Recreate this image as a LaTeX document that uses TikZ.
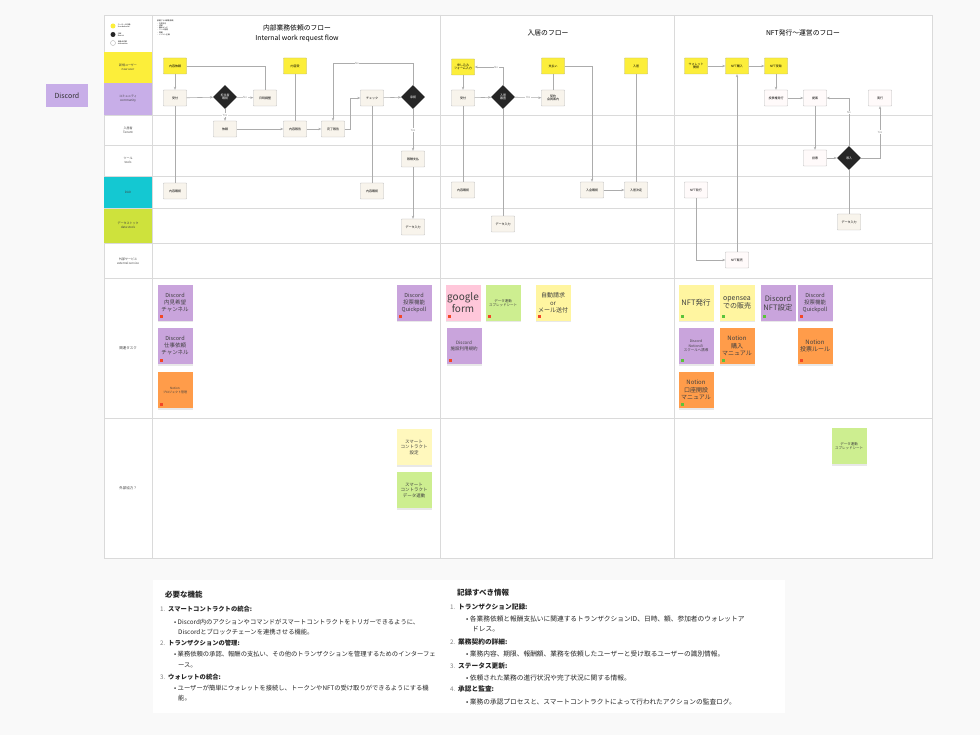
\documentclass[tikz,border=0pt]{standalone}
\usepackage{fontspec}
\setmainfont{Noto Sans CJK JP}
\usetikzlibrary{positioning,shapes.geometric,arrows.meta,shadows}

\definecolor{uyellow}{HTML}{FCEE3A}
\definecolor{upurple}{HTML}{C8AEE8}
\definecolor{uteal}{HTML}{14C8D2}
\definecolor{ulime}{HTML}{CEE23C}
\definecolor{cream}{HTML}{F8F4EC}
\definecolor{spurple}{HTML}{C9A4DC}
\definecolor{sorange}{HTML}{FF9C4A}
\definecolor{spink}{HTML}{FFC7DA}
\definecolor{sgreen}{HTML}{CDEE90}
\definecolor{syellow}{HTML}{FFF5A0}
\definecolor{tagred}{HTML}{F24726}
\definecolor{taggreen}{HTML}{5BC33A}
\definecolor{laneline}{HTML}{DADADA}

\newcommand{\tsz}[2]{\fontsize{#1}{#2}\selectfont}

\begin{document}
\begin{tikzpicture}[x=1pt, y=-1pt,
    box/.style={draw=gray!55, fill=cream, minimum width=23pt, minimum height=16pt,
      inner sep=0.5pt, align=center, font=\tsz{3}{3.7}, rounded corners=0.5pt},
    ubox/.style={box, fill=uyellow, draw=gray!60!yellow},
    wbox/.style={box, fill=red!2},
    dia/.style={diamond, fill=black!85, text=white, minimum width=24pt, minimum height=24pt,
      inner sep=0pt, align=center, font=\tsz{3}{3.7}},
    ln/.style={draw=gray!65, line width=0.6pt},
    arr/.style={ln, -{Stealth[length=3pt,width=2.4pt]}},
    lbl/.style={font=\tsz{2.8}{3.2}, fill=white, inner sep=0.6pt, text=gray!90},
    lanelbl/.style={align=center, font=\tsz{3}{4}, text=black!75},
    sticky/.style={fill=#1, minimum width=35pt, minimum height=36pt, inner sep=1pt,
      align=center, text=black!75,
      drop shadow={shadow xshift=0pt, shadow yshift=-1.5pt, opacity=0.18}},
    tagr/.style={fill=tagred, minimum width=3.5pt, minimum height=3pt, inner sep=0pt},
    tagg/.style={fill=taggreen, minimum width=3.5pt, minimum height=3pt, inner sep=0pt},
    txt/.style={anchor=west, inner sep=0pt, font=\tsz{6.3}{7.5}, text=black!85},
    txtb/.style={txt, font=\tsz{6.7}{8}},
    itm/.style={txt, font=\tsz{6.3}{7.5}\bfseries},
    itmb/.style={txt, font=\tsz{6.7}{8}\bfseries},
    num/.style={txt, text=gray},
    hd/.style={txt, font=\tsz{7.5}{9}\bfseries}]

  \useasboundingbox (0,0) rectangle (980,735);
  \fill[gray!5] (0,0) rectangle (980,735);

  % frame and lanes
  \draw[laneline, fill=white] (104,15) rectangle (932,558);
  \fill[uyellow] (104,52) rectangle (152,83);
  \fill[upurple] (104,83) rectangle (152,115);
  \fill[uteal] (104,176) rectangle (152,208);
  \fill[ulime] (104,208) rectangle (152,243);
  \foreach \yy in {115,145,176,208,243,278,418}
    \draw[laneline] (104,\yy) -- (932,\yy);
  \foreach \xx in {152,440,674}
    \draw[laneline] (\xx,15) -- (\xx,558);

  \node[lanelbl] (ln1) at (128,67) {新規ユーザー\\new user};
  \node[lanelbl] (ln2) at (128,99) {コミュニティ\\community};
  \node[lanelbl] (ln3) at (128,130) {入居者\\Tenant};
  \node[lanelbl] (ln4) at (128,160) {ツール\\tools};
  \node[lanelbl] (ln5) at (128,192) {DAO};
  \node[lanelbl] (ln6) at (128,225) {データストック\\data stock};
  \node[lanelbl] (ln7) at (128,261) {外部サービス\\external service};
  \node[lanelbl, font=\tsz{3.5}{4}] (ln8) at (128,348) {関連タスク};
  \node[lanelbl, font=\tsz{3.5}{4}] (ln9) at (128,488) {外部協力？};

  % legend
  \node[circle, fill=uyellow, minimum size=5pt, inner sep=0pt] (lg1) at (113,26) {};
  \node[circle, fill=black!85, minimum size=5pt, inner sep=0pt] (lg2) at (113,34.5) {};
  \node[circle, draw=gray!60, fill=white, minimum size=5pt, inner sep=0pt] (lg3) at (113,43) {};
  \node[right=2pt of lg1, align=left, font=\tsz{1.8}{2.2}, inner sep=0pt] (lg1t) {ユーザーの行動\\User behavior};
  \node[right=2pt of lg2, align=left, font=\tsz{1.8}{2.2}, inner sep=0pt] (lg2t) {分岐\\Branch};
  \node[right=2pt of lg3, align=left, font=\tsz{1.8}{2.2}, inner sep=0pt] (lg3t) {自動の作業\\automation};
  \node[anchor=north west, align=left, font=\tsz{1.8}{2.3}, inner sep=0pt] (memo) at (157,20)
    {部署ごとの業務依頼\\・内見対応\\・清掃\\・備品メンテ\\・ツール管理\\・修繕\\・イベント企画};

  % titles
  \node[font=\tsz{6.8}{8}] (t1a) at (297,28) {内部業務依頼のフロー};
  \node[font=\tsz{6.8}{8}] (t1b) at (297,39) {Internal work request flow};
  \node[font=\tsz{6.8}{8}] (t2) at (548,33) {入居のフロー};
  \node[font=\tsz{6.8}{8}] (t3) at (803,33) {NFT発行〜運営のフロー};

  % flow 1
  \node[ubox] (f1req) at (175,66) {内容依頼};
  \node[box] (f1rec) at (175,98) {受付};
  \node[dia] (f1dia) at (225,97) {担当者\\確認};
  \node[box] (f1date) at (265,98) {日時調整};
  \node[box] (f1ask) at (225,129) {依頼};
  \node[ubox] (f1recv) at (295,66) {内容受};
  \node[box] (f1rep) at (295,129) {内容報告};
  \node[box] (f1done) at (333,129) {完了報告};
  \node[box] (f1chk) at (372,98) {チェック};
  \node[dia] (f1ok) at (413,97) {承認};
  \node[box] (f1pay) at (413,159) {報酬支払};
  \node[box] (f1data) at (413,227) {データ入力};
  \node[box] (f1conf1) at (175,191) {内容確認};
  \node[box] (f1conf2) at (372,191) {内容確認};

  \draw[arr] (f1req) -- (f1rec);
  \draw[ln] (f1req.east) -| (f1date.north);
  \draw[arr] (f1rec) -- (f1dia);
  \draw[arr] (f1dia) -- node[lbl]{No} (f1date);
  \draw[arr] (f1dia) -- node[lbl]{Yes} (f1ask);
  \draw[ln] (f1rec) -- (f1conf1);
  \draw[arr] (f1ask) -- (f1rep);
  \draw[ln] (f1recv) -- (f1rep);
  \draw[arr] (f1rep) -- (f1done);
  \draw[arr] (f1done.east) -- ++(6,0) |- (f1chk.west);
  \draw[arr] (f1chk) -- (f1ok);
  \draw[ln] (f1chk) -- (f1conf2);
  \draw[arr] (f1ok.north) -- ++(0,-21) -| node[lbl, pos=0.35]{No} (f1done.north);
  \draw[arr] (f1ok) -- node[lbl]{Yes} (f1pay);
  \draw[arr] (f1pay) -- (f1data);

  % flow 2
  \node[ubox] (f2form) at (463,67) {申し込み\\フォーム入力};
  \node[box] (f2rec) at (463,98) {受付};
  \node[dia] (f2dia) at (503,97) {入居\\審査};
  \node[box] (f2cont) at (553,98) {契約\\会員案内};
  \node[ubox] (f2pay) at (553,66) {支払い};
  \node[ubox] (f2move) at (636,66) {入居};
  \node[box] (f2conf) at (463,190) {内容確認};
  \node[box] (f2dep) at (592,190) {入金確認};
  \node[box] (f2fix) at (636,190) {入居決定};
  \node[box] (f2data) at (503,224) {データ入力};

  \draw[arr] (f2form) -- (f2rec);
  \draw[arr] (f2rec) -- (f2dia);
  \draw[arr] (f2dia) -- node[lbl]{Yes} (f2cont);
  \draw[arr] (f2dia.north) |- node[lbl, pos=0.62]{No} (f2form.east);
  \draw[ln] (f2pay) -- (f2cont);
  \draw[arr] (f2pay.east) -| (f2dep.north);
  \draw[arr] (f2dep) -- (f2fix);
  \draw[ln] (f2move) -- (f2fix);
  \draw[ln] (f2rec) -- (f2conf);
  \draw[ln] (f2dia) -- (f2data);

  % flow 3
  \node[ubox] (f3wal) at (696,66) {ウォレット\\開設};
  \node[ubox] (f3buy) at (737,66) {NFT購入};
  \node[ubox] (f3get) at (776,66) {NFT受取};
  \node[wbox] (f3vote) at (776,98) {投票権発行};
  \node[wbox] (f3prop) at (815,98) {提案};
  \node[wbox] (f3exec) at (880,98) {実行};
  \node[wbox] (f3poll) at (815,158) {投票};
  \node[dia] (f3dia) at (849,158) {導入};
  \node[wbox] (f3mint) at (696,190) {NFT発行};
  \node[box] (f3data) at (849,222) {データ入力};
  \node[wbox] (f3sell) at (737,260) {NFT販売};

  \draw[arr] (f3wal) -- (f3buy);
  \draw[arr] (f3buy) -- (f3get);
  \draw[arr] (f3get) -- (f3vote);
  \draw[arr] (f3vote) -- (f3prop);
  \draw[arr] (f3dia.north) |- node[lbl, pos=0.35]{No} (f3prop.east);
  \draw[arr] (f3prop) -- (f3poll);
  \draw[arr] (f3poll) -- (f3dia);
  \draw[arr] (f3dia.east) -| node[lbl, pos=0.75]{Yes} (f3exec.south);
  \draw[ln] (f3dia) -- (f3data);
  \draw[arr] (f3mint.south) |- (f3sell.west);
  \draw[arr] (f3sell) -- (f3buy);

  % related tasks
  \node[sticky=spurple, font=\tsz{5.5}{7}] (s1) at (175,303) {Discord\\内見希望\\チャンネル};
  \node[sticky=spurple, font=\tsz{5.5}{7}] (s2) at (175,346) {Discord\\仕事依頼\\チャンネル};
  \node[sticky=sorange, font=\tsz{3}{4}] (s3) at (175,390) {Notion\\プロジェクト管理};
  \node[sticky=spurple, font=\tsz{5.5}{7}] (s4) at (414,303) {Discord\\投票機能\\Quickpoll};
  \node[sticky=spink, font=\tsz{10}{12}] (s7) at (463,303) {google\\form};
  \node[sticky=sgreen, font=\tsz{3.5}{4.5}] (s8) at (503,303) {データ連動\\スプレッドシート};
  \node[sticky=syellow, font=\tsz{6}{7.5}] (s9) at (553,303) {自動請求\\or\\メール送付};
  \node[sticky=spurple, font=\tsz{4.5}{5.5}] (s10) at (464,346) {Discord\\施設利用規約};
  \node[sticky=syellow, font=\tsz{7.5}{9}] (s11) at (696,303) {NFT発行};
  \node[sticky=syellow, font=\tsz{7}{8.5}] (s12) at (737,303) {opensea\\での販売};
  \node[sticky=spurple, font=\tsz{7.5}{9}] (s13) at (778,303) {Discord\\NFT設定};
  \node[sticky=spurple, font=\tsz{5.5}{7}] (s14) at (815,303) {Discord\\投票機能\\Quickpoll};
  \node[sticky=spurple, font=\tsz{3.5}{4.5}] (s15) at (696,346) {Discord\\Notionの\\スクールへ誘導};
  \node[sticky=sorange, font=\tsz{6}{7.5}] (s16) at (737,346) {Notion\\購入\\マニュアル};
  \node[sticky=sorange, font=\tsz{6}{7.5}] (s17) at (815,346) {Notion\\投票ルール};
  \node[sticky=sorange, font=\tsz{6}{7.5}] (s18) at (696,390) {Notion\\口座開設\\マニュアル};

  \node[tagr, above right=2.5pt and 2pt of s1.south west] (s1t) {};
  \node[tagr, above right=2.5pt and 2pt of s2.south west] (s2t) {};
  \node[tagr, above right=2.5pt and 2pt of s3.south west] (s3t) {};
  \node[tagr, above right=2.5pt and 2pt of s4.south west] (s4t) {};
  \node[tagr, above right=2.5pt and 2pt of s7.south west] (s7t) {};
  \node[tagr, above right=2.5pt and 2pt of s8.south west] (s8t) {};
  \node[tagr, above right=2.5pt and 2pt of s9.south west] (s9t) {};
  \node[tagr, above right=2.5pt and 2pt of s10.south west] (s10t) {};
  \node[tagg, above right=2.5pt and 2pt of s11.south west] (s11t) {};
  \node[tagg, above right=2.5pt and 2pt of s12.south west] (s12t) {};
  \node[tagg, above right=2.5pt and 2pt of s13.south west] (s13t) {};
  \node[tagr, above right=2.5pt and 2pt of s14.south west] (s14t) {};
  \node[tagg, above right=2.5pt and 2pt of s15.south west] (s15t) {};
  \node[tagg, above right=2.5pt and 2pt of s16.south west] (s16t) {};
  \node[tagr, above right=2.5pt and 2pt of s17.south west] (s17t) {};
  \node[tagg, above right=2.5pt and 2pt of s18.south west] (s18t) {};

  % external partners
  \node[sticky=syellow!70, font=\tsz{4.5}{5.5}] (s5) at (414,447) {スマート\\コントラクト\\設定};
  \node[sticky=sgreen, font=\tsz{4.5}{5.5}] (s6) at (414,490) {スマート\\コントラクト\\データ連動};
  \node[sticky=sgreen, font=\tsz{3.5}{4.5}] (s19) at (849,446) {データ連動\\スプレッドシート};

  % outside label
  \node[fill=upurple, minimum width=42pt, minimum height=23pt, font=\tsz{7}{8}, text=black!80] (disc) at (67,96) {Discord};

  % notes
  \fill[white] (153,580) rectangle (785,713);
  \node[hd] (h1) at (165,595) {必要な機能};
  \node[num] (n11) at (160,609) {1.};
  \node[itm] (i11) at (168,609) {スマートコントラクトの統合:};
  \node[txt] (b11) at (174,622) {•\ Discord内のアクションやコマンドがスマートコントラクトをトリガーできるように、};
  \node[txt] (c11) at (178,632) {Discordとブロックチェーンを連携させる機能。};
  \node[num] (n12) at (160,643) {2.};
  \node[itm] (i12) at (168,643) {トランザクションの管理:};
  \node[txt] (b12) at (174,654) {•\ 業務依頼の承認、報酬の支払い、その他のトランザクションを管理するためのインターフェ};
  \node[txt] (c12) at (178,665) {ース。};
  \node[num] (n13) at (160,677) {3.};
  \node[itm] (i13) at (168,677) {ウォレットの統合:};
  \node[txt] (b13) at (174,688) {•\ ユーザーが簡単にウォレットを接続し、トークンやNFTの受け取りができるようにする機};
  \node[txt] (c13) at (178,698) {能。};

  \node[hd] (h2) at (457,593) {記録すべき情報};
  \node[num] (n21) at (450,607) {1.};
  \node[itmb] (i21) at (458,607) {トランザクション記録:};
  \node[txtb] (b21) at (466,619) {•\ 各業務依頼と報酬支払いに関連するトランザクションID、日時、額、参加者のウォレットア};
  \node[txtb] (c21) at (472,629) {ドレス。};
  \node[num] (n22) at (450,642) {2.};
  \node[itmb] (i22) at (458,642) {業務契約の詳細:};
  \node[txtb] (b22) at (466,654) {•\ 業務内容、期限、報酬額、業務を依頼したユーザーと受け取るユーザーの識別情報。};
  \node[num] (n23) at (450,666) {3.};
  \node[itmb] (i23) at (458,666) {ステータス更新:};
  \node[txtb] (b23) at (466,678) {•\ 依頼された業務の進行状況や完了状況に関する情報。};
  \node[num] (n24) at (450,689) {4.};
  \node[itmb] (i24) at (458,689) {承認と監査:};
  \node[txtb] (b24) at (466,702) {•\ 業務の承認プロセスと、スマートコントラクトによって行われたアクションの監査ログ。};
\end{tikzpicture}
\end{document}
